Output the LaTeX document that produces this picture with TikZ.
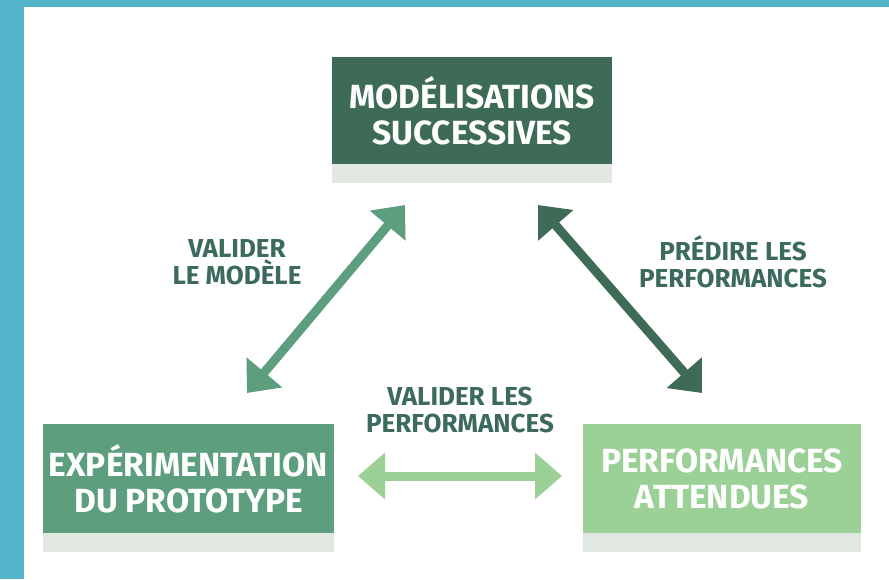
\documentclass[tikz,border=0pt]{standalone}
\usepackage{fontspec}
\setmainfont{Fira Sans}
\usetikzlibrary{arrows.meta}
\definecolor{frameteal}{HTML}{52B5C9}
\definecolor{darkgreen}{HTML}{3E6B55}
\definecolor{midgreen}{HTML}{5C9E7D}
\definecolor{lightgreen}{HTML}{9BD097}
\definecolor{stripgrey}{HTML}{E1E8E2}
\definecolor{labelcol}{HTML}{3D6A5F}
\tikzset{
  box/.style={inner sep=0pt, text=white, align=center, font=\fontsize{33.5}{36}\selectfont\bfseries},
  lbl/.style={inner sep=0pt, text=labelcol, align=center, font=\fontsize{26}{27}\selectfont\bfseries},
  dblarrow/.style={line width=9pt, {Triangle[length=27pt,width=45pt]}-{Triangle[length=27pt,width=45pt]}}
}
\begin{document}
\begin{tikzpicture}[x=1pt,y=-1pt]
\useasboundingbox (0,0) rectangle (889,579);
\fill[white] (0,0) rectangle (889,579);
\fill[frameteal] (0,0) rectangle (889,7);
\fill[frameteal] (0,0) rectangle (24,579);
% boxes
\node[box, fill=darkgreen, minimum width=280pt, minimum height=107pt] (mod) at (472,110.5) {MODÉLISATIONS\\SUCCESSIVES};
\fill[stripgrey] (mod.south west) rectangle ([yshift=-19pt]mod.south east);
\node[box, fill=midgreen, minimum width=291pt, minimum height=109pt] (exp) at (188.5,478.5) {EXPÉRIMENTATION\\DU PROTOTYPE};
\fill[stripgrey] (exp.south west) rectangle ([yshift=-19pt]exp.south east);
\node[box, fill=lightgreen, minimum width=278pt, minimum height=109pt] (perf) at (722,478.5) {PERFORMANCES\\ATTENDUES};
\fill[stripgrey] (perf.south west) rectangle ([yshift=-19pt]perf.south east);
% arrow ends
\coordinate (a1) at (247,393);
\coordinate (a2) at (405,205);
\coordinate (b1) at (538,205);
\coordinate (b2) at (702,393);
\coordinate (c1) at (358,476);
\coordinate (c2) at (562,476);
\draw[dblarrow, midgreen] (a1) -- (a2);
\draw[dblarrow, darkgreen] (b1) -- (b2);
\draw[dblarrow, lightgreen] (c1) -- (c2);
% labels
\node[lbl] (l1) at (237,262) {VALIDER\\LE MODÈLE};
\node[lbl] (l2) at (733,262) {PRÉDIRE LES\\PERFORMANCES};
\node[lbl] (l3) at (460,410) {VALIDER LES\\PERFORMANCES};
\end{tikzpicture}
\end{document}
